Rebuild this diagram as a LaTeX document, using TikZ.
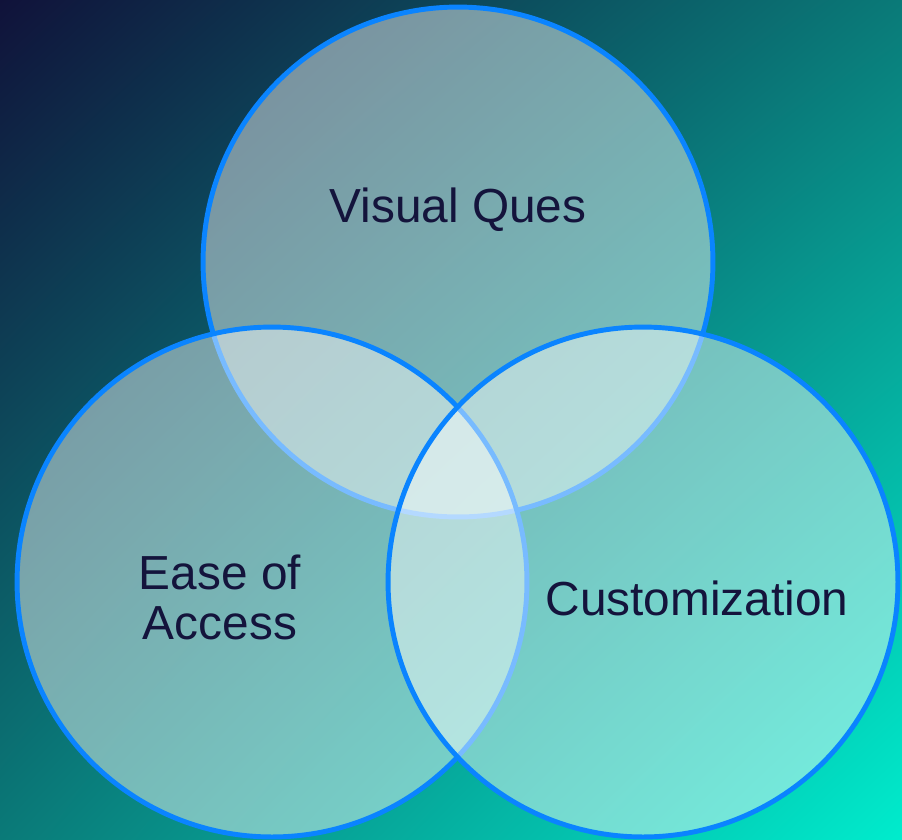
\documentclass[tikz,border=0pt]{standalone}
\usepackage{fontspec}
\setmainfont{Liberation Sans}
\usepackage{tikz}
\usetikzlibrary{shapes, calc, shadings}

\definecolor{bgnavy}{RGB}{16,18,58}
\definecolor{bgteal}{RGB}{10,122,120}
\definecolor{bgcyan}{RGB}{0,236,205}
\definecolor{ringblue}{RGB}{10,132,255}
\definecolor{labelink}{RGB}{20,20,60}

\tikzset{
	venn/.style={draw=ringblue, line width=2.8pt, circle, fill=white,
		fill opacity=0.45, minimum size=10.2cm, inner sep=0pt},
	venntext/.style={text=labelink, font=\fontsize{27.2}{28.5}\selectfont,
		align=center}
}

\begin{document}
\begin{tikzpicture}[x=0.02cm, y=-0.02cm]
	\def \w {902}
	\def \h {839}

	\useasboundingbox (0,0) rectangle (\w,\h);
	\shade[upper left=bgnavy, upper right=bgteal, lower left=bgteal,
		lower right=bgcyan] (0,0) rectangle (\w,\h);

	\node[venn] (visual) at (458,262) {};
	\node[venn] (ease)   at (272,582) {};
	\node[venn] (custom) at (643,582) {};

	\node[venntext] (visuallabel) at (458,210) {Visual Ques};
	\node[venntext] (easelabel)   at (220,597) {Ease of\\Access};
	\node[venntext] (customlabel) at (697,598) {Customization};
\end{tikzpicture}
\end{document}
